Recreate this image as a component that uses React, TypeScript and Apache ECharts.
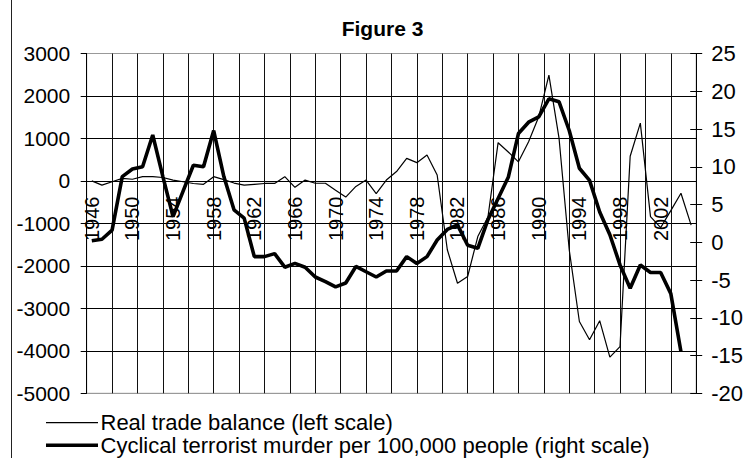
import React, { useEffect, useRef } from "react";
import * as echarts from "echarts";

const years = [
  "1946","1947","1948","1949","1950","1951","1952","1953","1954","1955",
  "1956","1957","1958","1959","1960","1961","1962","1963","1964","1965",
  "1966","1967","1968","1969","1970","1971","1972","1973","1974","1975",
  "1976","1977","1978","1979","1980","1981","1982","1983","1984","1985",
  "1986","1987","1988","1989","1990","1991","1992","1993","1994","1995",
  "1996","1997","1998","1999","2000","2001","2002","2003","2004","2005",
];

// Real trade balance (left scale)
const tradeBalance = [
  0, -100, -20, 60, 40, 100, 100, 80, 20, -20,
  -60, -80, 100, 30, -50, -100, -80, -60, -60, 100,
  -150, 20, -55, -55, -220, -380, -130, 20, -300, 20,
  220, 530, 430, 610, 140, -1620, -2410, -2250, -1310, -850,
  900, 680, 450, 920, 1510, 2490, 1000, -1620, -3310, -3740,
  -3290, -4150, -3900, 580, 1360, -840, -1100, -700, -290, -1040,
];

// Cyclical terrorist murder per 100,000 people (right scale)
const terroristMurder = [
  0.2, 0.4, 1.6, 8.7, 9.7, 10.0, 14.2, 8.7, 3.4, 6.8,
  10.2, 10.0, 14.8, 8.7, 4.3, 3.2, -1.9, -1.9, -1.5, -3.3,
  -2.8, -3.3, -4.6, -5.2, -5.9, -5.4, -3.2, -3.9, -4.6, -3.8,
  -3.8, -1.9, -2.8, -1.9, 0.3, 1.7, 2.3, -0.4, -0.8, 3.0,
  5.8, 8.6, 14.4, 15.9, 16.6, 19.0, 18.6, 14.8, 9.8, 8.2,
  4.0, 1.0, -3.0, -6.1, -3.0, -4.0, -4.0, -6.8, -14.5, null,
];

const seriesNames = [
  "Real trade balance (left scale)",
  "Cyclical terrorist murder per 100,000 people (right scale)",
];

const FONT = "'Liberation Sans', Arial, sans-serif";

export default function App() {
  const ref = useRef<HTMLDivElement>(null);
  useEffect(() => {
    if (!ref.current) return;
    const chart = echarts.init(ref.current, null, { renderer: "svg" });
    chart.setOption({
      animation: false,
      backgroundColor: "#fff",
      textStyle: { fontFamily: FONT },
      grid: {
        left: 86.7,
        right: 45.3,
        top: 53.5,
        bottom: 64.7,
        show: true,
        borderColor: "#999",
        borderWidth: 1,
      },
      graphic: [
        {
          type: "line",
          shape: { x1: 11.5, y1: 0, x2: 11.5, y2: 458 },
          style: { stroke: "#222", lineWidth: 1 },
        },
        {
          type: "text",
          x: 382.5,
          y: 28.5,
          style: {
            text: "Figure 3",
            fill: "#000",
            fontSize: 21,
            fontWeight: "bold",
            fontFamily: FONT,
            align: "center",
            verticalAlign: "middle",
          },
        },
        {
          type: "line",
          shape: { x1: 46, y1: 422.7, x2: 98, y2: 422.7 },
          style: { stroke: "#000", lineWidth: 1.2 },
        },
        {
          type: "text",
          x: 100.5,
          y: 422.7,
          style: {
            text: seriesNames[0],
            fill: "#000",
            fontSize: 22,
            fontFamily: FONT,
            align: "left",
            verticalAlign: "middle",
          },
        },
        {
          type: "line",
          shape: { x1: 46, y1: 445.3, x2: 98, y2: 445.3 },
          style: { stroke: "#000", lineWidth: 3.6 },
        },
        {
          type: "text",
          x: 100.5,
          y: 445.3,
          style: {
            text: seriesNames[1],
            fill: "#000",
            fontSize: 22,
            fontFamily: FONT,
            align: "left",
            verticalAlign: "middle",
          },
        },
      ],
      xAxis: [
        {
          type: "value",
          min: 0,
          max: 60,
          interval: 2.5,
          axisLine: { show: false },
          axisTick: { show: false },
          axisLabel: { show: false },
          splitLine: { show: true, lineStyle: { color: "#111", width: 1 } },
        },
        {
          type: "category",
          data: years,
          boundaryGap: true,
          position: "bottom",
          offset: -212.3,
          axisLine: { show: false },
          axisTick: { show: false },
          splitLine: { show: false },
          axisLabel: {
            interval: 3,
            rotate: 90,
            margin: 15.5,
            fontSize: 20,
            color: "#000",
            fontFamily: FONT,
          },
        },
      ],
      yAxis: [
        {
          type: "value",
          position: "left",
          min: -5000,
          max: 3000,
          interval: 1000,
          axisLine: { show: true, lineStyle: { color: "#000", width: 1 } },
          axisTick: { show: true, length: 6, lineStyle: { color: "#000" } },
          axisLabel: {
            margin: 16.5,
            fontSize: 21,
            color: "#000",
            fontFamily: FONT,
            formatter: (v: number) => String(v),
          },
          splitLine: {
            show: true,
            lineStyle: {
              color: ["#999", "#000", "#000", "#000", "#000", "#000", "#000", "#000", "#999"],
              width: 1,
            },
          },
        },
        {
          type: "value",
          position: "right",
          min: -20,
          max: 25,
          interval: 5,
          axisLine: { show: true, lineStyle: { color: "#000", width: 1 } },
          axisTick: { show: true, length: 6, lineStyle: { color: "#000" } },
          axisLabel: {
            margin: 15,
            fontSize: 22,
            color: "#000",
            fontFamily: FONT,
            formatter: (v: number) => String(v),
          },
          splitLine: { show: false },
        },
        {
          type: "value",
          position: "right",
          min: -20,
          max: 25,
          interval: 5,
          axisLine: { show: false },
          axisTick: { show: true, inside: true, length: 6, lineStyle: { color: "#000" } },
          axisLabel: { show: false },
          splitLine: { show: false },
        },
      ],
      series: [
        {
          name: seriesNames[0],
          type: "line",
          xAxisIndex: 1,
          yAxisIndex: 0,
          data: tradeBalance,
          symbol: "none",
          lineStyle: { color: "#000", width: 1.2 },
          itemStyle: { color: "#000" },
          z: 3,
        },
        {
          name: seriesNames[1],
          type: "line",
          xAxisIndex: 1,
          yAxisIndex: 1,
          data: terroristMurder,
          symbol: "none",
          lineStyle: { color: "#000", width: 3.6 },
          itemStyle: { color: "#000" },
          z: 4,
        },
      ],
    });
    return () => chart.dispose();
  }, []);
  return (
    <div
      ref={ref}
      style={{ position: "absolute", left: 0, top: 0, width: 746, height: 458 }}
    />
  );
}
